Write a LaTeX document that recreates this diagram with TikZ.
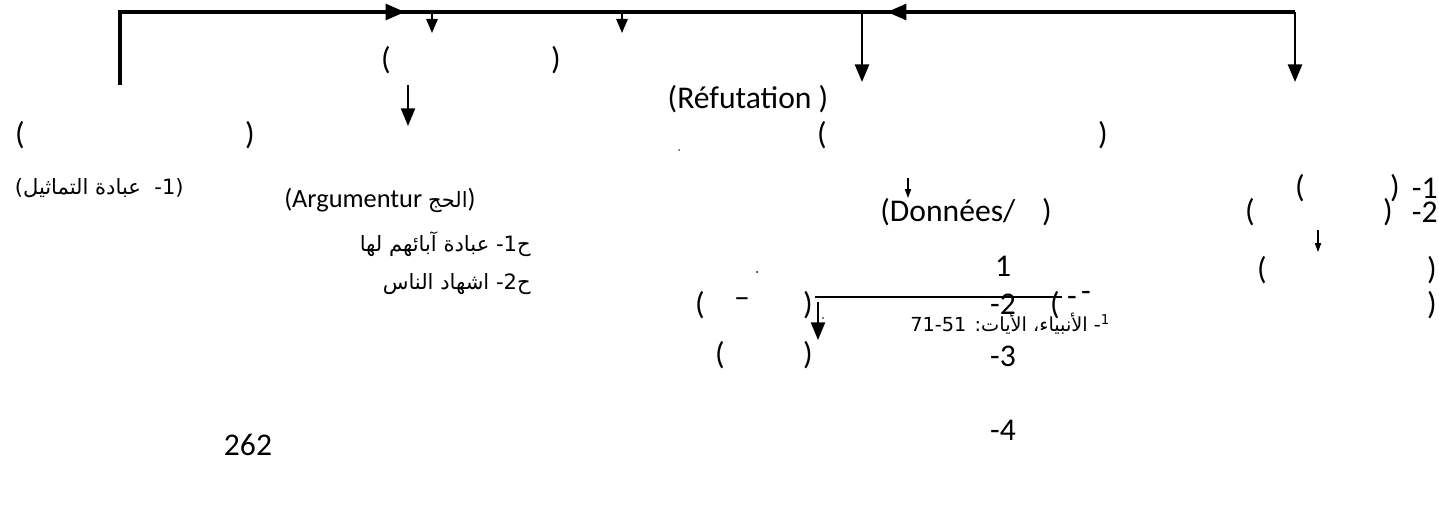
\documentclass[tikz,border=0pt]{standalone}
\usepackage{fontspec}
\setmainfont{Carlito}
\newfontfamily\arabicfont[Script=Arabic]{DejaVu Sans}
\TeXXeTstate=1
\usetikzlibrary{arrows.meta}
\tikzset{
  trunk/.style={line width=1.8pt, draw=black, line cap=butt},
  drop/.style={line width=1.3pt, draw=black, -{Triangle[width=8pt,length=10pt]}},
  dropshort/.style={line width=1pt, draw=black, -{Triangle[width=6.5pt,length=8pt]}},
  tick/.style={line width=0.6pt, draw=black, -{Triangle[width=3.5pt,length=5pt]}},
  rule/.style={line width=0.8pt, draw=black},
  txt/.style={inner sep=0pt, font=\fontsize{18}{21}\selectfont},
  artxt/.style={inner sep=0pt, font=\arabicfont\fontsize{12}{15}\selectfont},
}

\begin{document}
\begin{tikzpicture}[x=0.02cm, y=-0.02cm]
\useasboundingbox (0,0) rectangle (1439,510);
% top bar
\coordinate (tl) at (120,12);
\coordinate (tr) at (1295,12);
\coordinate (tlb) at (120,85);
\coordinate (trb) at (1295,82);
\coordinate (mr) at (405,12);
\coordinate (ml) at (887,12);
\draw[trunk] (tlb) -- (tl) -- (tr);
\draw[trunk, -{Triangle[width=9pt,length=11pt]}] (tl) -- (mr);
\draw[trunk, -{Triangle[width=9pt,length=11pt]}] (tr) -- (ml);
\draw[drop] (tr) -- (trb);
\coordinate (d1) at (432,12);
\coordinate (d1b) at (432,33);
\coordinate (d2) at (622,12);
\coordinate (d2b) at (622,33);
\coordinate (d3) at (862,12);
\coordinate (d3b) at (862,82);
\draw[dropshort] (d1) -- (d1b);
\draw[dropshort] (d2) -- (d2b);
\draw[drop] (d3) -- (d3b);
% parenthesis rows
\node[txt] (pa1) at (386,60) {(};
\node[txt] (pb1) at (556,60) {)};
\node[txt] (refut) at (748,99) {(Réfutation )};
\coordinate (d4) at (408,85);
\coordinate (d4b) at (408,126);
\draw[drop, line width=1pt] (d4) -- (d4b);
\node[txt] (pa2) at (20,135) {(};
\node[txt] (pb2) at (250,135) {)};
\node[txt] (pa3) at (822,135) {(};
\node[txt] (pb3) at (1103,135) {)};
\node[inner sep=0.4pt, fill=black!70, circle] (dot1) at (679,150) {};
% left column
\node[artxt, anchor=east] (idols) at (184,188) {\beginR(1-\ \ عبادة التماثيل)\endR};
\node[txt, anchor=east, font=\fontsize{15}{18}\selectfont] (argum) at (476,200) {(Argumentur {\arabicfont\fontsize{12}{15}\selectfont\beginR الحج\endR})};
\node[artxt, anchor=east] (ha1) at (531,244) {\beginR ح1- عبادة آبائهم لها\endR};
\node[artxt, anchor=east] (ha2) at (531,284) {\beginR ح2- اشهاد الناس\endR};
\node[txt] (page) at (248,445) {262};
% middle column
\coordinate (d5) at (908,178);
\coordinate (d5b) at (908,198);
\draw[tick] (d5) -- (d5b);
\node[txt, anchor=west] (donn) at (880,212) {(Données/};
\node[txt] (pb4) at (1047,212) {)};
\node[inner sep=0.4pt, fill=black, circle] (dot2) at (757,272) {};
\node[txt] (n1) at (1003,266) {1};
\node[txt] (pa5) at (700,305) {(};
\node[txt] (dash5) at (742,303) {–};
\node[txt] (pb5) at (808,305) {)};
\coordinate (fl) at (815,297);
\coordinate (fr) at (1062,297);
\draw[rule] (fl) -- (fr);
\node[txt] (n2) at (1003,304) {-2};
\node[artxt, anchor=west] (foot) at (910,324) {\fontsize{11}{13}\selectfont\beginR\textsuperscript{1}- الأنبياء، الأيات: \beginL 71-51\endL\endR};
\coordinate (d6) at (818,302);
\coordinate (d6b) at (818,340);
\draw[drop, line width=1pt] (d6) -- (d6b);
\node[inner sep=0.3pt, fill=black, circle] (dot3) at (823,318) {};
\node[txt] (pa6) at (720,355) {(};
\node[txt] (pb6) at (808,355) {)};
\node[txt] (n3) at (1003,356) {-3};
\node[txt] (n4) at (1003,430) {-4};
% right column
\node[txt] (pa7) at (1300,188) {(};
\node[txt] (pb7) at (1395,188) {)};
\node[txt, anchor=east] (r1) at (1438,188) {-1};
\node[txt] (pa8) at (1250,212) {(};
\node[txt] (pb8) at (1388,212) {)};
\node[txt, anchor=east] (r2) at (1438,212) {-2};
\coordinate (d7) at (1318,230);
\coordinate (d7b) at (1318,252);
\draw[tick] (d7) -- (d7b);
\node[txt] (pa9) at (1262,270) {(};
\node[txt] (pb9) at (1432,270) {)};
\node[txt] (pa10) at (1055,305) {(};
\node[txt] (dash10) at (1072,301) {-};
\node[txt] (dash11) at (1086,296) {-};
\node[txt] (pb10) at (1432,305) {)};
\end{tikzpicture}
\end{document}
